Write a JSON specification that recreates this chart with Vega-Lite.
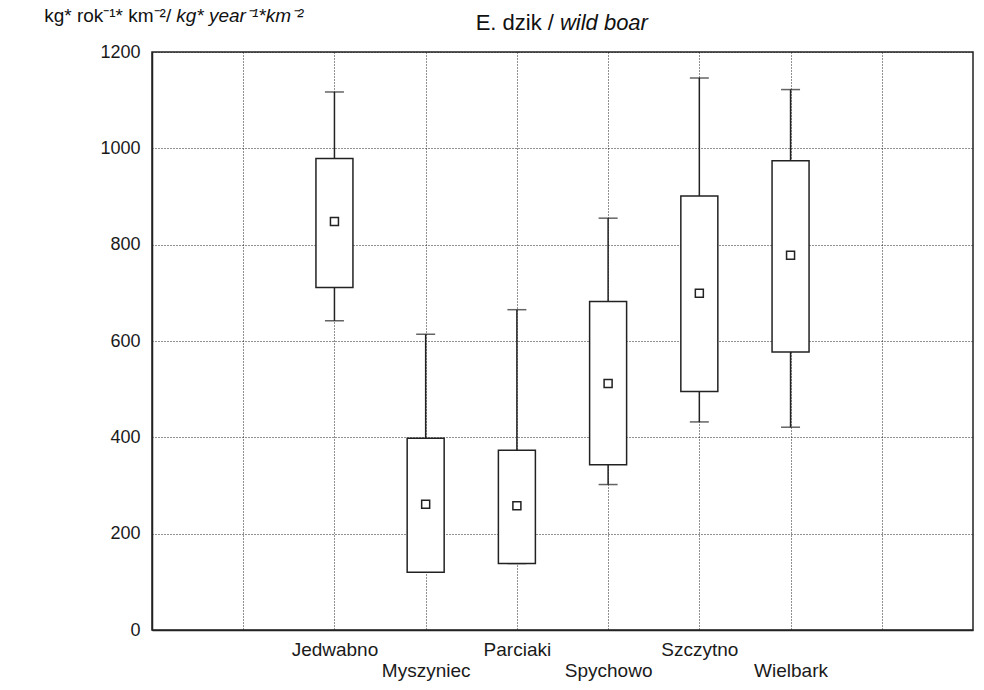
{
  "$schema": "https://vega.github.io/schema/vega-lite/v6.json",
  "description": "Box plots of wild boar biomass (kg per year per km2) for six forest districts: whiskers, quartile boxes and median squares.",
  "width": 821,
  "height": 578,
  "autosize": "none",
  "padding": {"left": 152, "top": 52, "right": 11, "bottom": 60},
  "background": "white",
  "config": {
    "font": "Liberation Sans",
    "view": {"stroke": "#222", "strokeWidth": 1.5},
    "axis": {
      "grid": true,
      "gridColor": "#222",
      "gridDash": [1, 2],
      "gridWidth": 1,
      "ticks": false,
      "domainColor": "#222",
      "domainWidth": 1.5,
      "labelColor": "#1a1a1a",
      "labelFont": "Liberation Sans",
      "title": null
    }
  },
  "data": {
    "values": [
      {"site": "Jedwabno", "min": 642, "q1": 711, "median": 848, "q3": 979, "max": 1117},
      {"site": "Myszyniec", "min": 120, "q1": 120, "median": 261, "q3": 398, "max": 614},
      {"site": "Parciaki", "min": 138, "q1": 138, "median": 258, "q3": 373, "max": 665},
      {"site": "Spychowo", "min": 302, "q1": 343, "median": 512, "q3": 682, "max": 855},
      {"site": "Szczytno", "min": 432, "q1": 495, "median": 699, "q3": 901, "max": 1146},
      {"site": "Wielbark", "min": 421, "q1": 577, "median": 778, "q3": 974, "max": 1122}
    ]
  },
  "layer": [
    {
      "mark": {"type": "rule", "color": "#222", "strokeWidth": 1.5},
      "encoding": {
        "x": {
          "field": "site",
          "type": "nominal",
          "scale": {
            "type": "point",
            "domain": [" ", "Jedwabno", "Myszyniec", "Parciaki", "Spychowo", "Szczytno", "Wielbark", "  "],
            "padding": 1
          },
          "axis": {
            "labelAngle": 0,
            "labelFontSize": 19,
            "labelPadding": 10,
            "labelLineHeight": 21,
            "labelOverlap": false,
            "labelExpr": "indexof(['Myszyniec', 'Spychowo', 'Wielbark'], datum.value) >= 0 ? ['', datum.label] : datum.label"
          }
        },
        "y": {
          "field": "min",
          "type": "quantitative",
          "scale": {"domain": [0, 1200], "nice": false},
          "axis": {
            "values": [0, 200, 400, 600, 800, 1000, 1200],
            "format": "d",
            "labelFontSize": 18,
            "labelPadding": 12
          }
        },
        "y2": {"field": "max"}
      }
    },
    {
      "mark": {"type": "tick", "color": "#222", "size": 19, "thickness": 1.5},
      "encoding": {
        "x": {"field": "site", "type": "nominal"},
        "y": {"field": "min", "type": "quantitative"}
      }
    },
    {
      "mark": {"type": "tick", "color": "#222", "size": 19, "thickness": 1.5},
      "encoding": {
        "x": {"field": "site", "type": "nominal"},
        "y": {"field": "max", "type": "quantitative"}
      }
    },
    {
      "mark": {"type": "bar", "fill": "white", "stroke": "#222", "strokeWidth": 1.5, "size": 37},
      "encoding": {
        "x": {"field": "site", "type": "nominal"},
        "y": {"field": "q1", "type": "quantitative"},
        "y2": {"field": "q3"}
      }
    },
    {
      "mark": {"type": "point", "shape": "square", "filled": true, "fill": "white", "stroke": "#222", "strokeWidth": 1.5, "size": 64, "opacity": 1},
      "encoding": {
        "x": {"field": "site", "type": "nominal"},
        "y": {"field": "median", "type": "quantitative"}
      }
    },
    {
      "data": {"values": [{}]},
      "mark": {"type": "text", "text": "E. dzik /", "align": "right", "baseline": "alphabetic", "fontSize": 22, "dx": 37, "dy": -22, "color": "#111"},
      "encoding": {"x": {"datum": "Parciaki"}, "y": {"datum": 1200}}
    },
    {
      "data": {"values": [{}]},
      "mark": {"type": "text", "text": "wild boar", "align": "left", "baseline": "alphabetic", "fontSize": 22, "fontStyle": "italic", "dx": 43, "dy": -22, "color": "#111"},
      "encoding": {"x": {"datum": "Parciaki"}, "y": {"datum": 1200}}
    },
    {
      "data": {"values": [{}]},
      "mark": {"type": "text", "text": "kg* rok⁻¹* km⁻²/", "align": "right", "baseline": "alphabetic", "fontSize": 19, "dx": -72, "dy": -30, "color": "#111"},
      "encoding": {"x": {"datum": " "}, "y": {"datum": 1200}}
    },
    {
      "data": {"values": [{}]},
      "mark": {"type": "text", "text": "kg* year⁻¹*km⁻²", "align": "left", "baseline": "alphabetic", "fontSize": 19, "fontStyle": "italic", "dx": -67, "dy": -30, "color": "#111"},
      "encoding": {"x": {"datum": " "}, "y": {"datum": 1200}}
    }
  ]
}
